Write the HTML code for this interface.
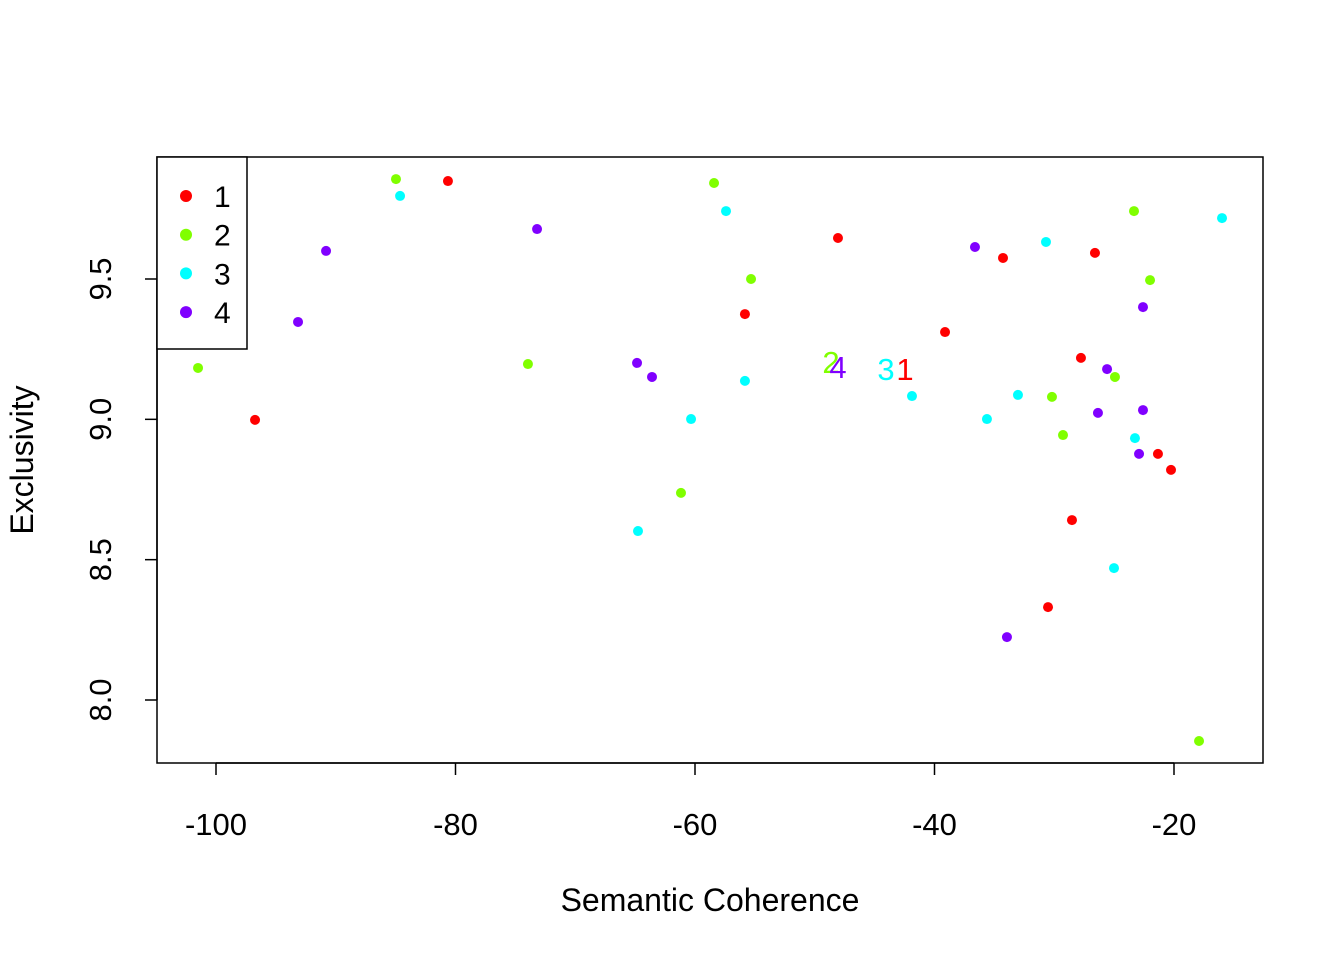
<!DOCTYPE html>
<html><head><meta charset="utf-8"><style>
html,body{margin:0;padding:0;background:#fff}
svg{display:block;font-family:"Liberation Sans",Arial,sans-serif}
</style></head><body>
<svg id="chart" width="1344" height="960" viewBox="0 0 1344 960" xmlns="http://www.w3.org/2000/svg">
<rect x="157" y="157" width="1106" height="606" fill="none" stroke="#000" stroke-width="1.5"/>
<g id="xaxis"></g>
<g id="yaxis"></g>
<g id="points"></g>
<text x="710" y="911" font-size="32" text-anchor="middle">Semantic Coherence</text>
<text transform="translate(33,460) rotate(-90)" font-size="32" text-anchor="middle">Exclusivity</text>
<g id="legend">
<rect x="157" y="157" width="90" height="192" fill="#fff" stroke="#000" stroke-width="1.5"/>
</g>
</svg>
<script>
const xTicks=[-100,-80,-60,-40,-20];
const yTicks=[8.0,8.5,9.0,9.5];
const yTickLabels=["8.0","8.5","9.0","9.5"];
const groupNames=["1","2","3","4"];
const colors=["#ff0000","#80ff00","#00ffff","#8000ff"];
const x1=[-80.63,-96.74,-48.06,-55.83,-34.28,-39.12,-26.60,-27.77,-21.34,-20.25,-28.52,-30.52];
const y1=[9.849,8.998,9.646,9.375,9.575,9.311,9.593,9.219,8.877,8.820,8.641,8.331];
const x2=[-101.50,-84.97,-73.95,-58.41,-55.32,-61.17,-23.34,-22.00,-24.93,-30.19,-29.27,-17.91];
const y2=[9.183,9.856,9.197,9.842,9.500,8.738,9.742,9.496,9.151,9.080,8.944,7.854];
const x3=[-84.63,-57.41,-55.83,-60.33,-64.76,-41.88,-33.03,-35.62,-30.69,-15.99,-23.26,-25.01];
const y3=[9.796,9.742,9.137,9.001,8.602,9.083,9.087,9.001,9.632,9.717,8.933,8.470];
const x4=[-93.15,-90.81,-73.19,-64.84,-63.59,-36.62,-22.59,-25.59,-26.35,-22.59,-22.92,-33.95];
const y4=[9.347,9.600,9.678,9.201,9.151,9.614,9.400,9.179,9.023,9.033,8.877,8.224];
const labelX=[-42.46,-48.64,-44.05,-48.06];
const labelY=[9.179,9.204,9.179,9.186];
const NS="http://www.w3.org/2000/svg";
function sx(v){return 216+(v+100)*958/80;}
function sy(v){return 700-(v-8)*421/1.5;}
function mk(t,a,p){const e=document.createElementNS(NS,t);for(const k in a)e.setAttribute(k,a[k]);p.appendChild(e);return e;}
const xa=document.getElementById('xaxis'),ya=document.getElementById('yaxis');
const xl=mk('line',{x1:sx(xTicks[0]),x2:sx(xTicks[xTicks.length-1]),y1:763,y2:763,stroke:'#000','stroke-width':1.5},xa);


xTicks.forEach(v=>{
 const l=mk('line',{x1:sx(v),x2:sx(v),y1:763,y2:775,stroke:'#000','stroke-width':1.5},xa);
 
 
 const t=mk('text',{x:sx(v),y:835,'font-size':31,'text-anchor':'middle'},xa);t.textContent=v;
 
 
});
const yl=mk('line',{x1:157,x2:157,y1:sy(yTicks[0]),y2:sy(yTicks[yTicks.length-1]),stroke:'#000','stroke-width':1.5},ya);


yTicks.forEach((v,i)=>{
 const l=mk('line',{x1:145,x2:157,y1:sy(v),y2:sy(v),stroke:'#000','stroke-width':1.5},ya);
 
 
 const t=mk('text',{transform:`translate(111,${sy(v)}) rotate(-90)`,'font-size':31,'text-anchor':'middle'},ya);t.textContent=yTickLabels[i];
 
 
});
const pg=document.getElementById('points');
[[x1,y1],[x2,y2],[x3,y3],[x4,y4]].forEach((s,g)=>{
 s[0].forEach((xv,i)=>{
  const c=mk('circle',{cx:sx(xv),cy:sy(s[1][i]),r:5,fill:colors[g]},pg);
  
  
 });
 const t=mk('text',{x:sx(labelX[g]),y:sy(labelY[g])+11,'font-size':31,'text-anchor':'middle',fill:colors[g]},pg);
 t.textContent=groupNames[g];
 
 
});
const lg=document.getElementById('legend');
groupNames.forEach((n,i)=>{
 const y=196+i*38.7;
 const c=mk('circle',{cx:186,cy:y,r:6,fill:colors[i]},lg);
 
 
 const t=mk('text',{x:214,y:y+11,'font-size':30},lg);t.textContent=n;
 
 
});
</script>
</body></html>
